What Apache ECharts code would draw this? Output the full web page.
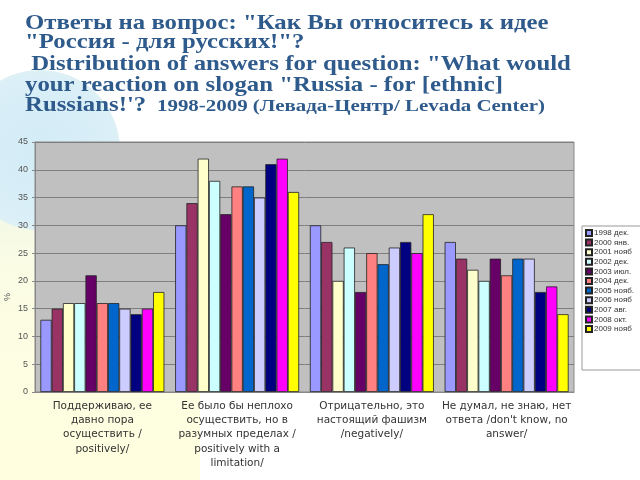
<!DOCTYPE html>
<html><head><meta charset="utf-8">
<script src="https://cdn.jsdelivr.net/npm/echarts@6/dist/echarts.min.js"></script>
<style>html,body{margin:0;padding:0;background:#fff}#c{width:640px;height:480px}</style>
</head><body><div id="c"></div>
<script>
const titleLines = [
  'Ответы на вопрос: "Как Вы относитесь к идее',
  '"Россия - для русских!"?',
  ' Distribution of answers for question: "What would',
  'your reaction on slogan "Russia - for [ethnic]',
  'Russians!\'?'
];
const titleTail = '1998-2009 (Левада-Центр/ Levada Center)';
const categories = [
  'Поддерживаю, ее\nдавно пора\nосуществить /\npositively/',
  'Ее было бы неплохо\nосуществить, но в\nразумных пределах /\npositively with a\nlimitation/',
  'Отрицательно, это\nнастоящий фашизм\n/negatively/',
  'Не думал, не знаю, нет\nответа /don\'t know, no\nanswer/'
];
const seriesNames = ['1998 дек.','2000 янв.','2001 нояб','2002 дек.','2003 июл.','2004 дек.','2005 нояб.','2006 нояб','2007 авг.','2008 окт.','2009 нояб'];
const seriesColors = ['#9999FF','#993366','#FFFFCC','#CCFFFF','#660066','#FF8080','#0066CC','#CCCCFF','#000080','#FF00FF','#FFFF00'];
const s1998 = [13,30,30,27];
const s2000 = [15,34,27,24];
const s2001 = [16,42,20,22];
const s2002 = [16,38,26,20];
const s2003 = [21,32,18,24];
const s2004 = [16,37,25,21];
const s2005 = [16,37,23,24];
const s2006 = [15,35,26,24];
const s2007 = [14,41,27,18];
const s2008 = [15,42,25,19];
const s2009 = [18,36,32,14];
const seriesValues = [s1998,s2000,s2001,s2002,s2003,s2004,s2005,s2006,s2007,s2008,s2009];
const yTicks = [0,5,10,15,20,25,30,35,40,45];

const titleColor = '#2F5B8C';
const lineY = [24, 43, 65, 86, 106];
const titleGraphics = titleLines.map((t,i)=>({
  type:'text', x:25, y:lineY[i], scaleX:1.18, z:10,
  style:{text:t, fill:titleColor, font:'bold 21px "Liberation Serif"', verticalAlign:'middle', align:'left'}
}));
titleGraphics.push({
  type:'text', x:157, y:107, scaleX:1.23, z:10,
  style:{text:titleTail, fill:titleColor, font:'bold 17px "Liberation Serif"', verticalAlign:'middle', align:'left'}
});

const chart = echarts.init(document.getElementById('c'));
chart.setOption({
  backgroundColor: '#ffffff',
  animation: false,
  graphic: [
    {type:'rect', z:-10, silent:true, shape:{x:0,y:142,width:200,height:338},
     style:{fill:{type:'linear',x:0,y:0,x2:0,y2:1,colorStops:[{offset:0,color:'#E6F3EE'},{offset:0.35,color:'#FAFCE4'},{offset:1,color:'#FFFFDF'}]}}},
    {type:'circle', z:-9, silent:true, shape:{cx:40,cy:150,r:80},
     style:{fill:{type:'radial',x:0.5,y:0.5,r:0.5,colorStops:[{offset:0,color:'#D3ECF6'},{offset:0.9,color:'#DAEFF8'},{offset:1,color:'#DDF0F5'}]}}},
    {type:'text', x:8, y:297, rotation:Math.PI/2, z:10,
     style:{text:'%', fill:'#555', font:'9px "Liberation Sans"', align:'center', verticalAlign:'middle'}}
  ].concat(titleGraphics),
  legend: {
    orient: 'vertical',
    left: 582, top: 226,
    width: 50,
    itemWidth: 6, itemHeight: 6, itemGap: 1.6,
    padding: [3, 8, 37, 3],
    backgroundColor: '#ffffff',
    borderColor: '#999999', borderWidth: 1,
    borderRadius: 0,
    icon: 'rect',
    textStyle: {fontFamily:'Liberation Sans', fontSize:8, lineHeight:8, color:'#333', padding:[0,0,0,-3]},
    data: seriesNames
  },
  grid: {left: 35, right: 66, top: 142, bottom: 88, containLabel:false, outerBoundsMode:'none',
         show: true, backgroundColor: '#C0C0C0', borderColor: '#888888', borderWidth: 1},
  xAxis: {
    type: 'category',
    data: categories,
    axisLine: {lineStyle:{color:'#888888'}},
    axisTick: {show:false},
    axisLabel: {interval:0, fontFamily:'DejaVu Sans', fontSize:10.5, lineHeight:14.3, color:'#333', margin:7}
  },
  yAxis: {
    type: 'value', min: 0, max: 45, interval: 5,
    axisLine: {show:true, lineStyle:{color:'#888888'}},
    axisTick: {show:true, length:3, lineStyle:{color:'#888888'}},
    axisLabel: {fontFamily:'Liberation Sans', fontSize:9, color:'#555', margin:7},
    splitLine: {lineStyle:{color:'#7F7F7F', width:1}}
  },
  series: seriesNames.map((n,i)=>({
    name: n, type: 'bar', data: seriesValues[i],
    barGap: '0%', barCategoryGap: '8%',
    itemStyle: {color: seriesColors[i], borderColor:'#222', borderWidth:0.8}
  }))
});
</script></body></html>
